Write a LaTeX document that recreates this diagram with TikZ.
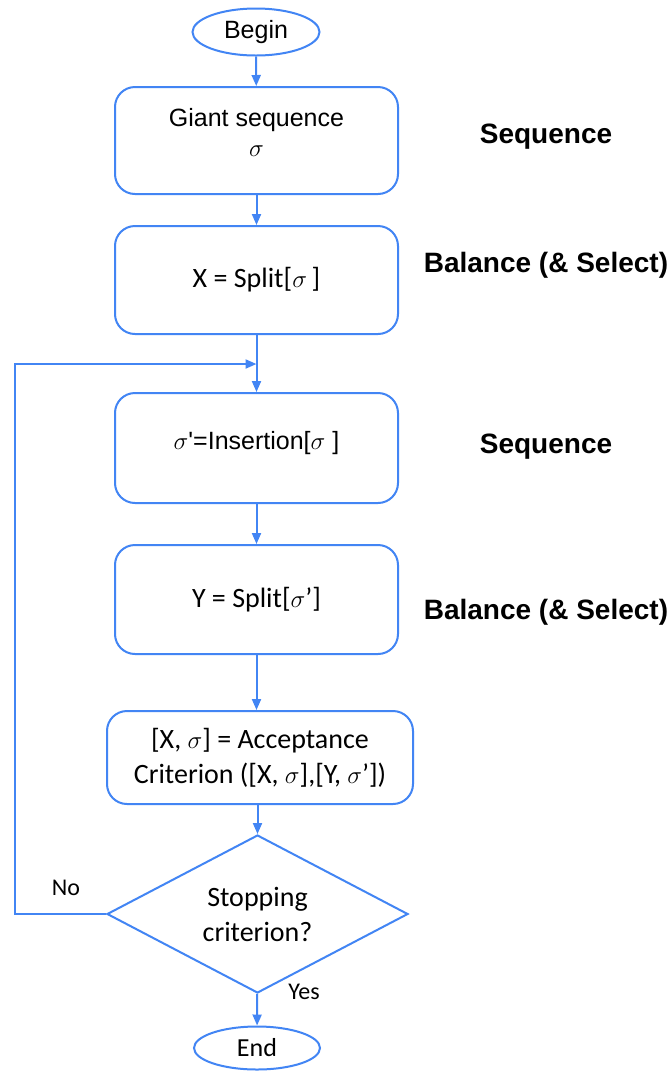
\documentclass[tikz,border=0pt]{standalone}
\usepackage{fontspec}
\setmainfont{Liberation Sans}
\newfontfamily\arialf{Liberation Sans}
\newfontfamily\calf{Carlito}
\usetikzlibrary{shapes.geometric,arrows.meta}
\definecolor{flowblue}{RGB}{66,133,244}
\tikzset{
  flowline/.style={draw=flowblue,line width=2pt},
  arr/.style={flowline,-{Triangle[length=11pt,width=9pt]}},
  procbox/.style={flowline,rectangle,rounded corners=20pt,minimum width=283pt,minimum height=108pt,inner sep=0pt,align=center,text=black},
  termnode/.style={flowline,ellipse,inner sep=0pt,text=black},
  sidelabel/.style={font=\arialf\bfseries\fontsize{28}{32}\selectfont,text=black},
  armtext/.style={font=\arialf\fontsize{25}{30}\selectfont},
  caltext/.style={font=\calf\fontsize{28}{35}\selectfont},
  smalltext/.style={font=\calf\fontsize{24}{28}\selectfont},
}
\begin{document}
\begin{tikzpicture}[x=1pt,y=-1pt]
\useasboundingbox[fill=white] (0,0) rectangle (672,1072);

\node[termnode,armtext,minimum width=127pt,minimum height=47pt] (begin) at (256,32) {Begin};

\node[procbox,armtext,minimum height=107pt,text depth=16pt] (seq) at (256.5,140.5) {Giant sequence\\[0pt]{\fontsize{33}{30}\selectfont$\sigma$}};
\node[procbox,caltext] (split1) at (256.5,280) {X = Split[$\sigma$\,]};
\node[procbox,armtext,minimum height=110pt,text depth=16pt] (ins) at (256.5,448) {$\sigma$'=Insertion[$\sigma$\ ]};
\node[procbox,caltext,minimum height=109pt] (split2) at (256.5,599.5) {Y = Split[$\sigma$’]};
\node[procbox,caltext,minimum width=306pt,minimum height=93pt] (acc) at (260,757.5) {[X, $\sigma$] = Acceptance\\Criterion ([X, $\sigma$],[Y, $\sigma$’])};
\node[flowline,diamond,aspect=1.905,minimum width=301pt,minimum height=158pt,inner sep=0pt,align=center,caltext] (stop) at (257.5,914) {Stopping\\criterion?};
\node[termnode,caltext,font=\calf\fontsize{26}{30}\selectfont,minimum width=126pt,minimum height=43pt] (end) at (257,1048) {End};

\coordinate (join) at (256.5,364);

\draw[arr] (begin) -- (seq);
\draw[arr] (seq) -- (split1);
\draw[arr] (split1) -- (ins);
\draw[arr] (ins) -- (split2);
\draw[arr] (split2) -- (acc.north -| split2);
\draw[arr] (acc.south -| stop) -- (stop);
\draw[arr] (stop) -- (end);
\draw[arr] (stop.west) -- (15,914) |- (join);

\node[smalltext] (no) at (66,888) {No};
\node[smalltext] (yes) at (304,992) {Yes};

\node[sidelabel] (l1) at (546,137) {Sequence};
\node[sidelabel] (l2) at (546,265) {Balance (\& Select)};
\node[sidelabel] (l3) at (546,447) {Sequence};
\node[sidelabel] (l4) at (546,612) {Balance (\& Select)};
\end{tikzpicture}
\end{document}
